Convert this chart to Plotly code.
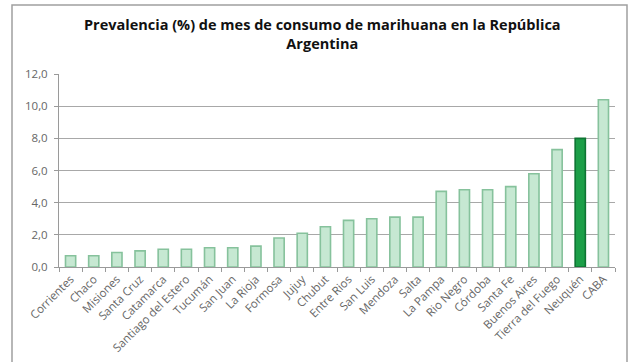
import plotly.graph_objects as go

provincias = [
    "Corrientes", "Chaco", "Misiones", "Santa Cruz", "Catamarca",
    "Santiago del Estero", "Tucumán", "San Juan", "La Rioja", "Formosa",
    "Jujuy", "Chubut", "Entre Rios", "San Luis", "Mendoza", "Salta",
    "La Pampa", "Rio Negro", "Córdoba", "Santa Fe", "Buenos Aires",
    "Tierra del Fuego", "Neuquén", "CABA",
]
prevalencia = [
    0.7, 0.7, 0.9, 1.0, 1.1, 1.1, 1.2, 1.2, 1.3, 1.8, 2.1, 2.5,
    2.9, 3.0, 3.1, 3.1, 4.7, 4.8, 4.8, 5.0, 5.8, 7.3, 8.0, 10.4,
]
destacada = "Neuquén"
y_ticks = [0, 2, 4, 6, 8, 10, 12]
titulo = "Prevalencia (%) de mes de consumo de marihuana en la República<br>Argentina"

fill = ["#1c9f48" if p == destacada else "#c6e8d2" for p in provincias]
edge = ["#0e7433" if p == destacada else "#86c29c" for p in provincias]

fig = go.Figure(
    go.Bar(
        x=provincias,
        y=prevalencia,
        width=0.44,
        marker=dict(color=fill, line=dict(color=edge, width=1.6)),
        hoverinfo="x+y",
    )
)

W, H = 632, 362
L, R, T, B = 59, 17, 74, 95
pw, ph = W - L - R, H - T - B


def px_x(x):
    return (x - L) / pw


def px_y(y):
    return (H - B - y) / ph


tick_font = dict(family="'Open Sans', sans-serif", size=11.5, color="#666666")
title_font = dict(family="'Open Sans', sans-serif", size=14.5, color="#111111", weight="bold")

fig.update_layout(
    width=W,
    height=H,
    margin=dict(l=L, r=R, t=T, b=B, autoexpand=False),
    paper_bgcolor="white",
    plot_bgcolor="white",
    separators=",.",
    showlegend=False,
    font=dict(family="'Open Sans', sans-serif", color="#666666", size=11.5),
    xaxis=dict(
        type="category",
        automargin=False,
        tickangle=-45,
        tickson="boundaries",
        ticks="outside",
        ticklen=4,
        tickcolor="#9a9a9a",
        showline=True,
        linecolor="#9a9a9a",
        linewidth=1,
        showgrid=False,
        tickfont=tick_font,
    ),
    yaxis=dict(
        range=[0, 12],
        automargin=False,
        tickvals=y_ticks,
        tickformat=".1f",
        ticks="outside",
        ticklen=4,
        tickcolor="#9a9a9a",
        ticklabelstandoff=4,
        showline=True,
        linecolor="#9a9a9a",
        linewidth=1,
        showgrid=True,
        gridcolor="#a8a8a8",
        gridwidth=1,
        zeroline=False,
        tickfont=tick_font,
    ),
    annotations=[
        dict(
            text=titulo,
            xref="paper",
            yref="paper",
            x=px_x(322),
            y=px_y(34),
            xanchor="center",
            yanchor="middle",
            align="center",
            showarrow=False,
            font=title_font,
        )
    ],
    shapes=[
        dict(
            type="rect",
            xref="paper",
            yref="paper",
            x0=px_x(12),
            x1=px_x(627),
            y0=px_y(380),
            y1=px_y(5),
            line=dict(color="#a0a0a0", width=1.5),
            fillcolor="rgba(0,0,0,0)",
            layer="below",
        )
    ],
)

fig.write_html("out.html")
